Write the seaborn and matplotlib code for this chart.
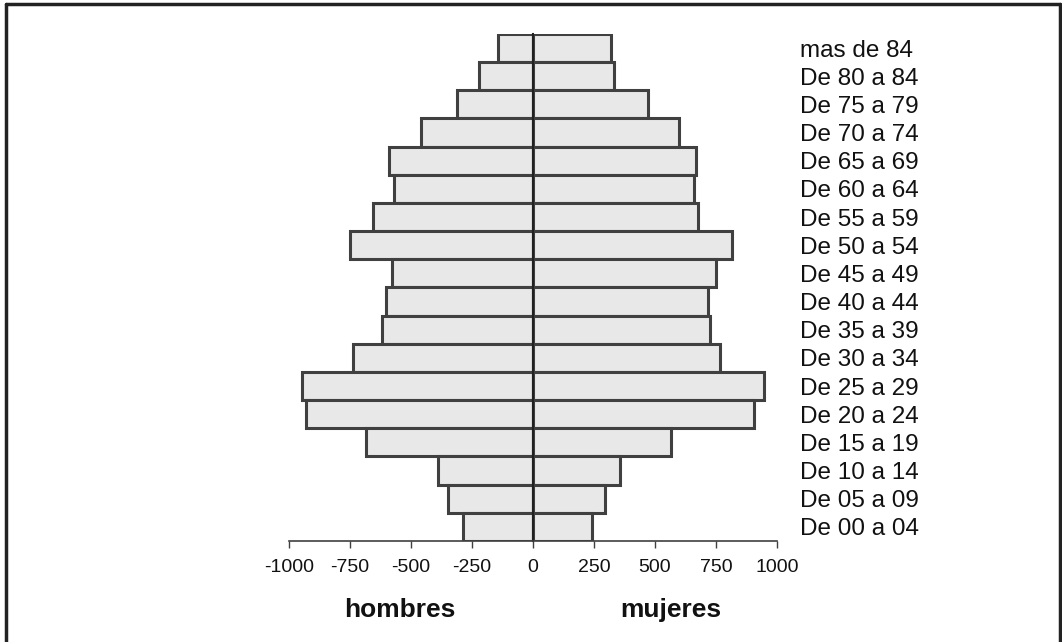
import matplotlib
matplotlib.use('Agg')
import matplotlib.pyplot as plt
import pandas as pd
import seaborn as sns
import numpy as np

# age groups, oldest first (top of the pyramid)
grupos = ['mas de 84', 'De 80 a 84', 'De 75 a 79', 'De 70 a 74', 'De 65 a 69',
          'De 60 a 64', 'De 55 a 59', 'De 50 a 54', 'De 45 a 49', 'De 40 a 44',
          'De 35 a 39', 'De 30 a 34', 'De 25 a 29', 'De 20 a 24', 'De 15 a 19',
          'De 10 a 14', 'De 05 a 09', 'De 00 a 04']
hombres = [-142, -220, -310, -457, -590, -570, -657, -750, -579, -604,
           -618, -738, -947, -929, -684, -388, -350, -286]
mujeres = [321, 330, 471, 598, 670, 660, 678, 817, 748, 717,
           727, 768, 948, 907, 567, 355, 297, 240]
xticks = [-1000, -750, -500, -250, 0, 250, 500, 750, 1000]

df = pd.DataFrame({'grupo': grupos, 'hombres': hombres, 'mujeres': mujeres})

sns.set_style('white')
plt.rcParams['font.family'] = ['Liberation Sans', 'DejaVu Sans']

fig = plt.figure(figsize=(10.62, 6.42), dpi=100)
ax = fig.add_axes([289 / 1062, 101 / 642, 488 / 1062, 507 / 642])

bar_kw = dict(orient='h', order=grupos, width=1.0, color='#e8e8e8',
              edgecolor='#404040', linewidth=2.2, saturation=1, ax=ax)
sns.barplot(data=df, x='hombres', y='grupo', **bar_kw)
sns.barplot(data=df, x='mujeres', y='grupo', **bar_kw)

ax.set_xlim(-1000, 1000)
ax.set_ylim(len(grupos) - 0.5, -0.5)
ax.set_xticks(xticks)
ax.set_xticklabels([str(v) for v in xticks])
ax.set_xlabel('')
ax.set_ylabel('')

for s in ['top', 'right']:
    ax.spines[s].set_visible(False)
ax.spines['left'].set_position(('data', 0))
ax.spines['left'].set_color('#202020')
ax.spines['left'].set_linewidth(1.5)
ax.spines['bottom'].set_color('#404040')
ax.spines['bottom'].set_linewidth(1.2)

ax.tick_params(axis='x', direction='out', length=5, width=1.0, color='#404040',
               bottom=True, pad=8, labelsize=14, labelcolor='#111111')
ax.tick_params(axis='y', direction='out', length=2.5, width=1.0, color='#404040',
               left=True, right=False, labelleft=False, labelright=True,
               pad=14, labelsize=17.5, labelcolor='#111111')

fig.text(400 / 1062, 1 - 617 / 642, 'hombres', ha='center', va='baseline',
         fontsize=19, fontweight='bold', color='#111111')
fig.text(671 / 1062, 1 - 617 / 642, 'mujeres', ha='center', va='baseline',
         fontsize=19, fontweight='bold', color='#111111')

# dark frame around the picture (left, top, right)
frame = dict(color='#222222', linewidth=2.5, transform=fig.transFigure)
fig.add_artist(plt.Line2D([5.5 / 1062, 5.5 / 1062], [0, 1 - 4 / 642], **frame))
fig.add_artist(plt.Line2D([5.5 / 1062, 1060 / 1062], [1 - 4 / 642, 1 - 4 / 642], **frame))
fig.add_artist(plt.Line2D([1060 / 1062, 1060 / 1062], [0, 1 - 4 / 642], **frame))

fig.savefig('out.png', dpi=100)
